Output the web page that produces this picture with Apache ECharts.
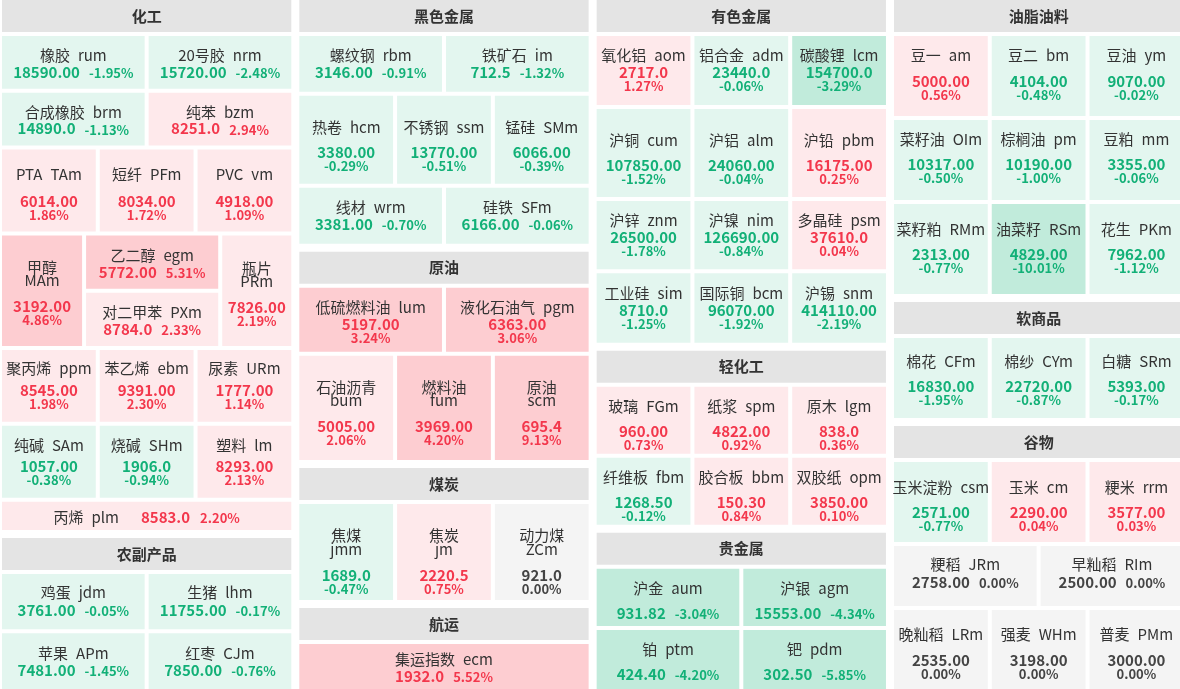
<!DOCTYPE html>
<html><head><meta charset="utf-8">
<script src="https://cdn.jsdelivr.net/npm/echarts@6/dist/echarts.min.js"></script>
<style>html,body{margin:0;padding:0;background:#fff;overflow:hidden}#c{width:1180px;height:689px}</style>
</head><body><div id="c"></div>
<script>
// ---------------- data ----------------
const sections = ['化工','农副产品','黑色金属','原油','煤炭','航运','有色金属','轻化工','贵金属','油脂油料','软商品','谷物'];
const names = ['橡胶','20号胶','合成橡胶','纯苯','PTA','短纤','PVC','甲醇','乙二醇','对二甲苯','瓶片','聚丙烯','苯乙烯','尿素','纯碱','烧碱','塑料','丙烯',
  '鸡蛋','生猪','苹果','红枣',
  '螺纹钢','铁矿石','热卷','不锈钢','锰硅','线材','硅铁',
  '低硫燃料油','液化石油气','石油沥青','燃料油','原油',
  '焦煤','焦炭','动力煤','集运指数',
  '氧化铝','铝合金','碳酸锂','沪铜','沪铝','沪铅','沪锌','沪镍','多晶硅','工业硅','国际铜','沪锡',
  '玻璃','纸浆','原木','纤维板','胶合板','双胶纸',
  '沪金','沪银','铂','钯',
  '豆一','豆二','豆油','菜籽油','棕榈油','豆粕','菜籽粕','油菜籽','花生',
  '棉花','棉纱','白糖',
  '玉米淀粉','玉米','粳米','粳稻','早籼稻','晚籼稻','强麦','普麦'];
const codes = ['rum','nrm','brm','bzm','TAm','PFm','vm','MAm','egm','PXm','PRm','ppm','ebm','URm','SAm','SHm','lm','plm',
  'jdm','lhm','APm','CJm',
  'rbm','im','hcm','ssm','SMm','wrm','SFm',
  'lum','pgm','bum','fum','scm',
  'jmm','jm','ZCm','ecm',
  'aom','adm','lcm','cum','alm','pbm','znm','nim','psm','sim','bcm','snm',
  'FGm','spm','lgm','fbm','bbm','opm',
  'aum','agm','ptm','pdm',
  'am','bm','ym','OIm','pm','mm','RMm','RSm','PKm',
  'CFm','CYm','SRm',
  'csm','cm','rrm','JRm','RIm','LRm','WHm','PMm'];
const prices = [18590,15720,14890,8251,6014,8034,4918,3192,5772,8784,7826,8545,9391,1777,1057,1906,8293,8583,
  3761,11755,7481,7850,
  3146,712.5,3380,13770,6066,3381,6166,
  5197,6363,5005,3969,695.4,
  1689,2220.5,921,1932,
  2717,23440,154700,107850,24060,16175,26500,126690,37610,8710,96070,414110,
  960,4822,838,1268.5,150.3,3850,
  931.82,15553,424.4,302.5,
  5000,4104,9070,10317,10190,3355,2313,4829,7962,
  16830,22720,5393,
  2571,2290,3577,2758,2500,2535,3198,3000];
const decimals = [2,2,1,1,2,2,2,2,2,1,2,2,2,2,2,1,2,1,
  2,2,2,2,
  2,1,2,2,2,2,2,
  2,2,2,2,1,
  1,1,1,1,
  1,1,1,2,2,2,2,2,1,1,2,2,
  2,2,1,2,2,2,
  2,2,2,2,
  2,2,2,2,2,2,2,2,2,
  2,2,2,
  2,2,2,2,2,2,2,2];
const changes = [-1.95,-2.48,-1.13,2.94,1.86,1.72,1.09,4.86,5.31,2.33,2.19,1.98,2.30,1.14,-0.38,-0.94,2.13,2.20,
  -0.05,-0.17,-1.45,-0.76,
  -0.91,-1.32,-0.29,-0.51,-0.39,-0.70,-0.06,
  3.24,3.06,2.06,4.20,9.13,
  -0.47,0.75,0.00,5.52,
  1.27,-0.06,-3.29,-1.52,-0.04,0.25,-1.78,-0.84,0.04,-1.25,-1.92,-2.19,
  0.73,0.92,0.36,-0.12,0.84,0.10,
  -3.04,-4.34,-4.20,-5.85,
  0.56,-0.48,-0.02,-0.50,-1.00,-0.06,-0.77,-10.01,-1.12,
  -1.95,-0.87,-0.17,
  -0.77,0.04,0.03,0.00,0.00,0.00,0.00,0.00];

// ---------------- layout (structure only) ----------------
const layout = [
 [ {hd:0},
   {h:52.7,f:'A',n:19,v:36.5,c:[0,1]},
   {h:52.7,f:'A',n:19.8,v:36,c:[2,3]},
   {h:82.1,f:'B',n:25,v:51.6,c:[4,5,6]},
   {h:110.5,f:'M',w:[80,132,69],sub:[{f:'C',n:31.5,c:7},{stack:[{f:'A',n:19.5,v:37,c:8},{f:'A',n:19.25,v:36.75,c:9}]},{f:'C',n:32.3,c:10}]},
   {h:71.8,f:'B',n:18.7,v:40.5,c:[11,12,13]},
   {h:71.9,f:'B',n:19.2,v:40.7,c:[14,15,16]},
   {h:28.3,f:'L',n:15.1,c:[17]},
   {hd:1},
   {h:55.3,f:'A',n:18.5,v:36.5,c:[18,19]},
   {h:55.7,f:'A',n:19.7,v:37.2,c:[20,21]} ],
 [ {hd:2},
   {h:55.7,f:'A',n:19,v:36.2,c:[22,23]},
   {h:88,f:'B',n:31.8,v:56.3,c:[24,25,26]},
   {h:56,f:'A',n:19.8,v:36.3,c:[27,28]},
   {hd:3},
   {h:64,f:'B',n:19.8,v:36.3,c:[29,30]},
   {h:104.3,f:'C',n:31.3,c:[31,32,33]},
   {hd:4},
   {h:96,f:'C',n:31.5,c:[34,35,36]},
   {hd:5},
   {h:45,f:'A',n:15.5,v:32.3,c:[37]} ],
 [ {hd:6},
   {h:69,f:'B',n:19,v:36.7,c:[38,39,40]},
   {h:88,f:'B',n:31,v:56.3,c:[41,42,43]},
   {h:68.3,f:'B',n:19,v:36.5,c:[44,45,46]},
   {h:69.4,f:'B',n:20,v:37.2,c:[47,48,49]},
   {hd:7},
   {h:67,f:'B',n:19.1,v:44.6,c:[50,51,52]},
   {h:67,f:'B',n:19.5,v:44.5,c:[53,54,55]},
   {hd:8},
   {h:57.3,f:'A',n:19.6,v:44.5,c:[56,57]},
   {h:59,f:'A',n:19.2,v:44.2,c:[58,59]} ],
 [ {hd:9},
   {h:80,f:'B',n:19,v:45,c:[60,61,62]},
   {h:80,f:'B',n:18.8,v:44.5,c:[63,64,65]},
   {h:90,f:'B',n:25,v:50.7,c:[66,67,68]},
   {hd:10},
   {h:80,f:'B',n:22.8,v:48.2,c:[69,70,71]},
   {hd:11},
   {h:80,f:'B',n:24.8,v:50.2,c:[72,73,74]},
   {h:60,f:'A',n:18.2,v:36.2,c:[75,76]},
   {h:79,f:'B',n:24.2,v:50,c:[77,78,79]} ]
];
const COL_X0 = 2, COL_STEP = 297.33, COL_W = 289.3, GAP = 4, HEAD_H = 32;
const ST = {head:'#e4e4e4', up1:'#fee9eb', up2:'#fdcdd1', dn1:'#e3f6ef', dn2:'#c1ebdb', flat:'#f4f4f4',
  red:'#f3374c', green:'#12b077', flatText:'#444', text:'#333'};
const FONT = "'Noto Sans CJK SC','Microsoft YaHei',sans-serif";

// build rects from structure
const cellData = [], cellMeta = [], headData = [];
function pushCell(x0,y0,x1,y1,idx,meta){ cellData.push([x0,y0,x1,y1,idx]); cellMeta.push(meta); }
layout.forEach((col, ci) => {
  const x0 = COL_X0 + ci*COL_STEP;
  let y = 0;
  col.forEach((b, bi) => {
    if (bi > 0) y += (b.hd !== undefined ? 2*GAP : GAP);
    if (b.hd !== undefined) { headData.push([x0, y, x0+COL_W, y+HEAD_H, b.hd]); y += HEAD_H; return; }
    if (b.f === 'M') {
      const tot = b.w.reduce((a,c)=>a+c,0);
      const avail = COL_W - GAP*(b.w.length-1);
      let cx = x0;
      b.sub.forEach((s, j) => {
        const w = avail * b.w[j]/tot;
        if (s.stack) {
          const sh = (b.h - GAP*(s.stack.length-1))/s.stack.length;
          s.stack.forEach((t,k) => { const sy = y + k*(sh+GAP); pushCell(cx, sy, cx+w, sy+sh, t.c, t); });
        } else pushCell(cx, y, cx+w, y+b.h, s.c, s);
        cx += w + GAP;
      });
    } else {
      const k = b.c.length, w = (COL_W - GAP*(k-1))/k;
      b.c.forEach((idx, j) => { const cx = x0 + j*(w+GAP); pushCell(cx, y, cx+w, y+b.h, idx, b); });
    }
    y += b.h;
  });
});

// ---------------- drawing ----------------
const mctx = document.createElement('canvas').getContext('2d');
function tw(t, size, weight){ mctx.font = (weight||'normal')+' '+size+'px '+FONT; return mctx.measureText(t).width; }
function tEl(t,x,y,size,weight,fill,align){ return {type:'text', style:{text:t,x:x,y:y,fontSize:size,fontWeight:weight,fontFamily:FONT,fill:fill,align:align||'left',verticalAlign:'middle'}}; }
function inline(parts, cx, y){
  let total = 0; parts.forEach(p => { p.w = tw(p.t,p.s,p.wt); total += p.w + (p.g||0); });
  let x = cx - total/2; const out = [];
  parts.forEach(p => { x += (p.g||0); out.push(tEl(p.t, x, y + (p.dy||0), p.s, p.wt, p.fill)); x += p.w; });
  return out;
}
function colors(ch){
  if (ch > 3) return [ST.up2, ST.red];
  if (ch > 0) return [ST.up1, ST.red];
  if (ch < -3) return [ST.dn2, ST.green];
  if (ch < 0) return [ST.dn1, ST.green];
  return [ST.flat, ST.flatText];
}
function renderCell(params, api){
  const m = cellMeta[params.dataIndex];
  const p0 = api.coord([api.value(0), api.value(1)]);
  const p1 = api.coord([api.value(2), api.value(3)]);
  const x = p0[0], y = p0[1], w = p1[0]-p0[0], h = p1[1]-p0[1];
  const i = api.value(4);
  const c = colors(changes[i]);
  const cx = x + w/2;
  const pTxt = prices[i].toFixed(decimals[i]);
  const qTxt = changes[i].toFixed(2) + '%';
  const ch = [{type:'rect', shape:{x:x,y:y,width:w,height:h}, style:{fill:c[0]}}];
  const nm = {t:names[i], s:15, wt:'normal', fill:ST.text};
  const cd = {t:codes[i], s:15, wt:'normal', fill:ST.text, g:8};
  const pr = {t:pTxt, s:15, wt:'bold', fill:c[1]};
  if (m.f === 'A') {
    ch.push(...inline([nm, cd], cx, y+m.n));
    ch.push(...inline([pr, {t:qTxt, s:13, wt:'bold', fill:c[1], g:9, dy:1}], cx, y+m.v));
  } else if (m.f === 'B') {
    ch.push(...inline([nm, cd], cx, y+m.n));
    ch.push(tEl(pTxt, cx, y+m.v, 15, 'bold', c[1], 'center'));
    ch.push(tEl(qTxt, cx, y+m.v+13.8, 13, 'bold', c[1], 'center'));
  } else if (m.f === 'C') {
    ch.push(tEl(names[i], cx, y+m.n, 15, 'normal', ST.text, 'center'));
    ch.push(tEl(codes[i], cx, y+m.n+13.5, 15, 'normal', ST.text, 'center'));
    ch.push(tEl(pTxt, cx, y+m.n+39.5, 15, 'bold', c[1], 'center'));
    ch.push(tEl(qTxt, cx, y+m.n+53.5, 13, 'bold', c[1], 'center'));
  } else {
    ch.push(...inline([nm, cd, Object.assign({}, pr, {g:22}), {t:qTxt, s:13, wt:'bold', fill:c[1], g:10, dy:1}], cx, y+m.n));
  }
  return {type:'group', children:ch};
}
function renderHead(params, api){
  const p0 = api.coord([api.value(0), api.value(1)]);
  const p1 = api.coord([api.value(2), api.value(3)]);
  const s = sections[api.value(4)];
  return {type:'group', children:[
    {type:'rect', shape:{x:p0[0],y:p0[1],width:p1[0]-p0[0],height:p1[1]-p0[1]}, style:{fill:ST.head}},
    tEl(s, (p0[0]+p1[0])/2, (p0[1]+p1[1])/2, 15, 'bold', ST.text, 'center')
  ]};
}

const chart = echarts.init(document.getElementById('c'), null, {renderer:'canvas'});
chart.setOption({
  animation:false,
  backgroundColor:'#ffffff',
  grid:{left:0,right:0,top:0,bottom:0},
  xAxis:{type:'value', min:0, max:1180, show:false},
  yAxis:{type:'value', min:0, max:689, inverse:true, show:false},
  series:[
    {type:'custom', renderItem:renderHead, data:headData, silent:true, clip:false},
    {type:'custom', renderItem:renderCell, data:cellData, silent:true, clip:false}
  ]
});
</script></body></html>
